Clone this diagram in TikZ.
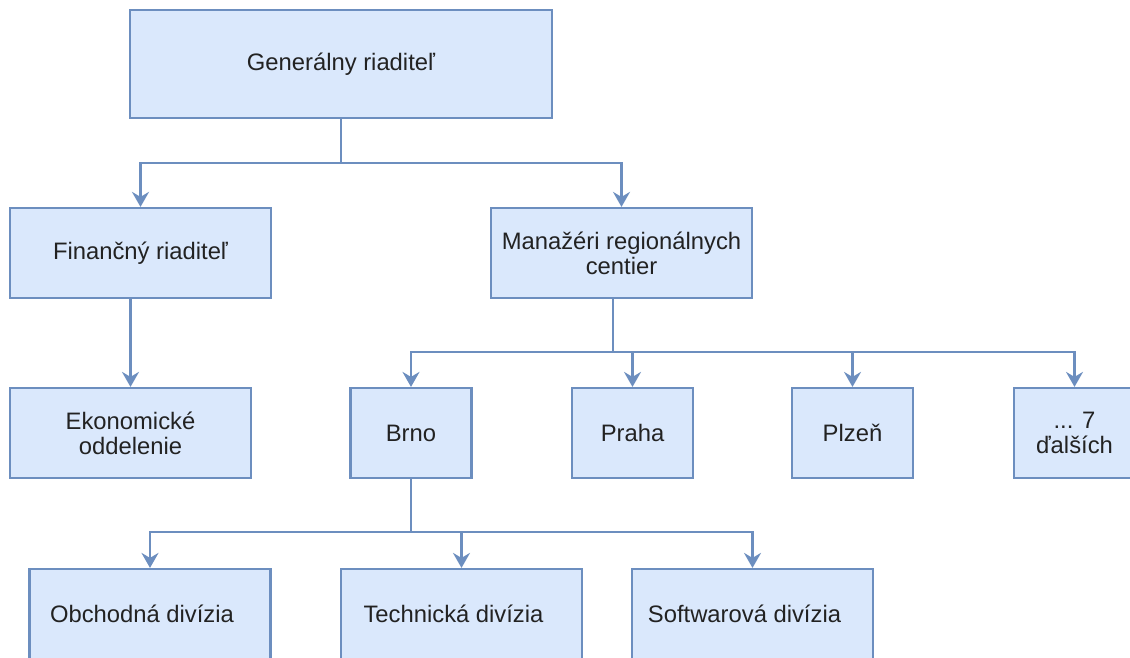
\documentclass[tikz,border=0pt]{standalone}
\usepackage{fontspec}
\setmainfont{Liberation Sans}
\usetikzlibrary{arrows.meta}
\definecolor{boxfill}{HTML}{DAE8FC}
\definecolor{boxline}{HTML}{6C8EBF}
\definecolor{txt}{HTML}{222222}
\tikzset{
  orgbox/.style={draw=boxline, fill=boxfill, line width=2.2pt, rectangle, inner sep=0pt,
    text=txt, align=center, font=\fontsize{23.8}{25}\selectfont},
  conn/.style={draw=boxline, line width=2.2pt},
  arr/.style={conn, -{Stealth[length=15pt,width=17pt,inset=5pt]}},
}
\begin{document}
\begin{tikzpicture}[x=1pt,y=-1pt]
\useasboundingbox (0,0) rectangle (1130,657);
\clip (0,0) rectangle (1130,657);
\fill[white] (0,0) rectangle (1130,657);

\node[orgbox, minimum width=422pt, minimum height=108pt] (gen) at (341,64) {Generálny riaditeľ};
\node[orgbox, minimum width=261pt, minimum height=90pt] (fin) at (140.5,253) {Finančný riaditeľ};
\node[orgbox, minimum width=261pt, minimum height=90pt] (man) at (621.5,253) {Manažéri regionálnych\\centier};
\node[orgbox, minimum width=241pt, minimum height=90pt] (eko) at (130.5,433) {Ekonomické\\oddelenie};
\node[orgbox, minimum width=121pt, minimum height=90pt] (brno) at (411,433) {Brno};
\node[orgbox, minimum width=121pt, minimum height=90pt] (praha) at (632.5,433) {Praha};
\node[orgbox, minimum width=121pt, minimum height=90pt] (plzen) at (852.5,433) {Plzeň};
\node[orgbox, minimum width=121pt, minimum height=90pt] (dalsi) at (1074.5,433) {... 7\\ďalších};
\node[orgbox, minimum width=241pt, minimum height=90pt] (obch) at (150,614) {\hspace*{-16pt}Obchodná divízia};
\node[orgbox, minimum width=241pt, minimum height=90pt] (tech) at (461.5,614) {\hspace*{-16pt}Technická divízia};
\node[orgbox, minimum width=241pt, minimum height=90pt] (soft) at (752.5,614) {\hspace*{-16pt}Softwarová divízia};

\coordinate (j1) at (341,163);
\coordinate (j2) at (613,352);
\coordinate (j3) at (411,532);

\draw[conn] (gen.south) -- (j1);
\draw[arr] (j1) -| (fin.north);
\draw[arr] (j1) -| (man.north);

\draw[arr] (eko.north |- fin.south) -- (eko.north);

\draw[conn] (j2 |- man.south) -- (j2);
\draw[arr] (j2) -| (brno.north);
\draw[arr] (j2) -| (praha.north);
\draw[arr] (j2) -| (plzen.north);
\draw[arr] (j2) -| (dalsi.north);

\draw[conn] (brno.south) -- (j3);
\draw[arr] (j3) -| (obch.north);
\draw[arr] (j3) -| (tech.north);
\draw[arr] (j3) -| (soft.north);
\end{tikzpicture}
\end{document}
